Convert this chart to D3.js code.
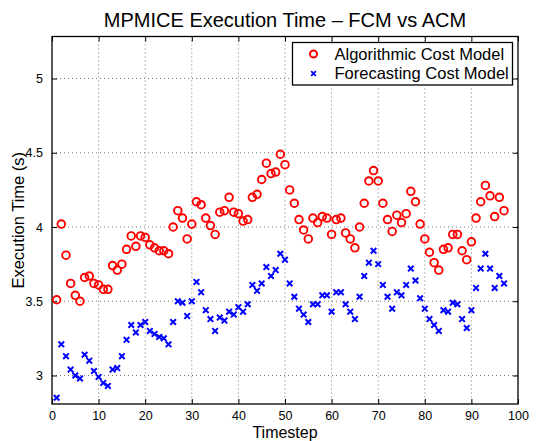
<!DOCTYPE html>
<html lang="en">
<head>
<meta charset="utf-8">
<title>MPMICE Execution Time</title>
<script src="https://d3js.org/d3.v7.min.js"></script>
<style>
  body { margin: 0; background: #fff; }
  svg text { font-family: "Liberation Sans", Arial, sans-serif; fill: #000; }
</style>
</head>
<body>
<svg id="chart"></svg>
<script>
    // timesteps 1..97
    const timesteps = d3.range(1, 98);

    const acmTimes = [
        3.51, 4.02, 3.81, 3.62, 3.54, 3.50, 3.66, 3.67, 3.62, 3.61,
        3.58, 3.58, 3.74, 3.71, 3.75, 3.85, 3.94, 3.87, 3.94, 3.93,
        3.88, 3.86, 3.84, 3.84, 3.82, 4.00, 4.11, 4.06, 3.92, 4.02,
        4.17, 4.15, 4.06, 4.01, 3.95, 4.10, 4.11, 4.20, 4.10, 4.09,
        4.04, 4.05, 4.20, 4.22, 4.32, 4.43, 4.36, 4.37, 4.49, 4.42,
        4.25, 4.16, 4.05, 3.98, 3.92, 4.06, 4.03, 4.07, 4.06, 3.95,
        4.05, 4.06, 3.96, 3.92, 3.86, 4.00, 4.16, 4.31, 4.38, 4.31,
        4.16, 4.05, 3.97, 4.08, 4.03, 4.09, 4.24, 4.17, 4.02, 3.92,
        3.83, 3.76, 3.71, 3.85, 3.86, 3.95, 3.95, 3.84, 3.78, 3.90,
        4.06, 4.17, 4.28, 4.21, 4.07, 4.20, 4.11
    ];

    const fcmTimes = [
        2.85, 3.21, 3.13, 3.04, 3.00, 2.98, 3.14, 3.10, 3.03, 2.99,
        2.95, 2.93, 3.04, 3.05, 3.13, 3.24, 3.34, 3.29, 3.34, 3.36,
        3.30, 3.28, 3.26, 3.25, 3.21, 3.36, 3.50, 3.49, 3.40, 3.50,
        3.63, 3.56, 3.44, 3.38, 3.30, 3.39, 3.37, 3.43, 3.41, 3.46,
        3.43, 3.48, 3.61, 3.57, 3.62, 3.73, 3.67, 3.71, 3.82, 3.78,
        3.62, 3.53, 3.45, 3.41, 3.36, 3.48, 3.48, 3.54, 3.54, 3.43,
        3.56, 3.56, 3.48, 3.43, 3.38, 3.53, 3.67, 3.76, 3.84, 3.75,
        3.61, 3.53, 3.45, 3.56, 3.54, 3.61, 3.72, 3.64, 3.52, 3.45,
        3.38, 3.34, 3.30, 3.44, 3.43, 3.49, 3.48, 3.38, 3.32, 3.44,
        3.59, 3.72, 3.82, 3.72, 3.59, 3.67, 3.62
    ];

    const xTicks = [0, 10, 20, 30, 40, 50, 60, 70, 80, 90, 100];
    const yTicks = [3, 3.5, 4, 4.5, 5];
    const legendLabels = ["Algorithmic Cost Model", "Forecasting Cost Model"];

    let width = 537, height = 441;
    let margin = {top: 36.5, right: 19, bottom: 37, left: 52};
    let chartWidth = width - margin.left - margin.right,
        chartHeight = height - margin.top - margin.bottom;

    let svg = d3.select("#chart")
        .attr("width", width)
        .attr("height", height);

    let x = d3.scaleLinear().domain([0, 100]).range([0, chartWidth]);
    let y = d3.scaleLinear().domain([2.808, 5.283]).range([chartHeight, 0]);

    let chartArea = svg.append("g")
        .attr("transform", `translate(${margin.left},${margin.top})`);

    // dotted grid
    let grid = chartArea.append("g").attr("class", "grid");
    grid.selectAll("line.gx")
        .data(xTicks.slice(1, -1))
        .join("line")
        .attr("x1", d => x(d)).attr("x2", d => x(d))
        .attr("y1", 0).attr("y2", chartHeight);
    grid.selectAll("line.gy")
        .data(yTicks)
        .join("line")
        .attr("y1", d => y(d)).attr("y2", d => y(d))
        .attr("x1", 0).attr("x2", chartWidth);
    grid.selectAll("line")
        .attr("stroke", "#777")
        .attr("stroke-width", 1)
        .attr("stroke-dasharray", "1,3");

    // axes (ticks point inward, matlab style)
    let xAxis = chartArea.append("g")
        .attr("transform", `translate(0,${chartHeight})`)
        .call(d3.axisBottom(x).tickValues(xTicks).tickSize(-5).tickPadding(7));
    let xTop = chartArea.append("g")
        .call(d3.axisTop(x).tickValues(xTicks).tickSize(-5).tickFormat(""));
    let yAxis = chartArea.append("g")
        .call(d3.axisLeft(y).tickValues(yTicks).tickSize(-5).tickPadding(9)
            .tickFormat(d3.format("")));
    let yRight = chartArea.append("g")
        .attr("transform", `translate(${chartWidth},0)`)
        .call(d3.axisRight(y).tickValues(yTicks).tickSize(-5).tickFormat(""));

    [xAxis, xTop, yAxis, yRight].forEach(a => {
        a.select(".domain").remove();
        a.selectAll("line").attr("stroke", "#000");
        a.selectAll("text").attr("font-size", 12.5).attr("fill", "#000");
    });

    chartArea.append("rect")
        .attr("width", chartWidth).attr("height", chartHeight)
        .attr("fill", "none").attr("stroke", "#000").attr("stroke-width", 1.3);

    // ACM circles
    chartArea.append("g").selectAll("circle")
        .data(timesteps)
        .join("circle")
        .attr("cx", (d, i) => x(d))
        .attr("cy", (d, i) => y(acmTimes[i]))
        .attr("r", 3.8)
        .attr("fill", "none")
        .attr("stroke", "#ff0000")
        .attr("stroke-width", 1.9);

    // FCM crosses
    let cross = d3.symbol().type(d3.symbolX).size(22);
    chartArea.append("g").selectAll("path")
        .data(timesteps)
        .join("path")
        .attr("transform", (d, i) => `translate(${x(d)},${y(fcmTimes[i])})`)
        .attr("d", cross)
        .attr("fill", "none")
        .attr("stroke", "#0000ff")
        .attr("stroke-width", 2);

    // legend
    let legend = svg.append("g").attr("transform", "translate(292.5,42.5)");
    legend.append("rect")
        .attr("width", 220).attr("height", 42.5)
        .attr("fill", "#fff").attr("stroke", "#000").attr("stroke-width", 1.3);
    legend.append("circle")
        .attr("cx", 21).attr("cy", 11.5).attr("r", 3.5)
        .attr("fill", "none").attr("stroke", "#ff0000").attr("stroke-width", 2);
    legend.append("path")
        .attr("transform", "translate(21,31)")
        .attr("d", d3.symbol().type(d3.symbolX).size(16))
        .attr("fill", "none").attr("stroke", "#0000ff").attr("stroke-width", 1.8);
    legend.selectAll("text")
        .data(legendLabels)
        .join("text")
        .attr("x", 42)
        .attr("y", (d, i) => 17 + i * 19.5)
        .attr("font-size", 16.5)
        .text(d => d);

    // title and axis labels
    svg.append("text")
        .attr("x", margin.left + chartWidth / 2).attr("y", 27)
        .attr("text-anchor", "middle").attr("font-size", 20)
        .text("MPMICE Execution Time \u2013 FCM vs ACM");
    svg.append("text")
        .attr("x", margin.left + chartWidth / 2).attr("y", 438)
        .attr("text-anchor", "middle").attr("font-size", 16)
        .text("Timestep");
    svg.append("text")
        .attr("transform", `translate(24,${margin.top + chartHeight / 2}) rotate(-90)`)
        .attr("text-anchor", "middle").attr("font-size", 16.5)
        .text("Execution Time (s)");
</script>
</body>
</html>
